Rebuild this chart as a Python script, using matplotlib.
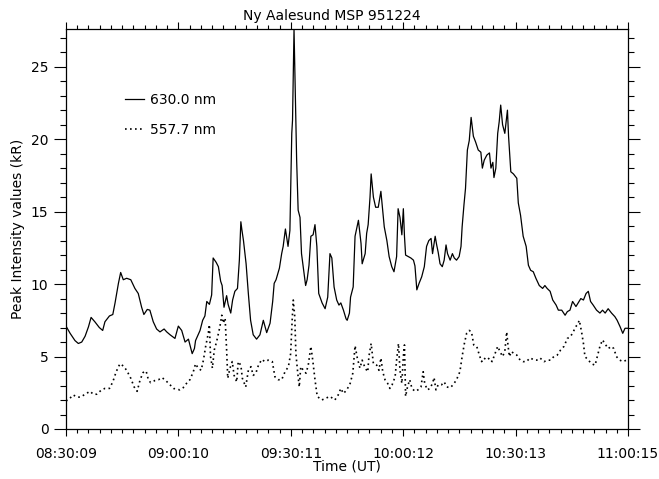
import numpy as np
import matplotlib
matplotlib.use("Agg")
import matplotlib.pyplot as plt
from matplotlib.ticker import FixedLocator, MultipleLocator

plt.rcParams['font.family'] = ['DejaVu Sans']

# Time in minutes after 08:30:09 UT
t630 = [0.0, 1.1, 2.4, 3.3, 4.2, 5.1, 6.0, 6.7, 7.7, 8.9, 9.8, 10.4, 11.6, 12.5, 13.1,
        14.0, 14.6, 15.3, 16.2, 17.3, 18.4, 19.3, 20.2, 20.8, 21.7, 22.4, 23.3, 24.2,
        25.1, 26.2, 26.9, 27.8, 29.1, 30.0, 30.9, 31.8, 32.7, 33.7, 34.3, 34.6, 35.8,
        36.5, 37.1, 37.6, 38.3, 38.9, 39.3, 40.1, 40.7, 41.3, 41.7, 42.2, 42.9, 43.3,
        44.0, 44.5, 45.1, 45.8, 46.3, 46.7, 47.0, 47.4, 48.1, 48.7, 49.3, 50.0, 50.9,
        51.8, 52.7, 53.6, 54.5, 55.2, 55.6, 56.1, 57.0, 57.6, 58.0, 58.6, 58.9, 59.3,
        59.8, 60.3, 60.5, 60.9, 61.2, 61.6, 62.0, 62.5, 62.9, 63.4, 64.0, 64.4, 64.9,
        65.4, 66.0, 66.5, 67.0, 67.5, 68.4, 69.2, 69.9, 70.5, 71.0, 71.6, 72.3, 72.9,
        73.4, 74.1, 74.8, 75.1, 75.7, 76.0, 76.7, 77.2, 78.1, 78.8, 79.1, 79.9, 80.3,
        80.7, 81.2, 81.5, 82.1, 82.7, 83.4, 84.1, 84.5, 85.0, 85.7, 86.3, 87.0, 87.6,
        88.3, 88.7, 89.2, 89.7, 90.1, 90.4, 90.7, 91.4, 92.1, 92.8, 93.2, 93.7, 94.3,
        95.0, 95.7, 96.3, 96.9, 97.5, 97.9, 98.6, 99.0, 99.4, 99.9, 100.5, 101.0,
        101.5, 101.9, 102.6, 103.2, 103.7, 104.3, 105.0, 105.5, 105.8, 106.3, 106.7,
        107.2, 107.7, 108.2, 108.8, 109.4, 110.1, 110.8, 111.2, 111.7, 112.4, 113.1,
        113.5, 114.0, 114.3, 114.8, 115.3, 115.7, 116.1, 116.6, 117.2, 117.9, 118.2,
        118.8, 119.5, 120.4, 120.8, 121.4, 122.1, 122.9, 123.5, 124.1, 124.8, 125.5,
        126.4, 127.3, 127.9, 128.5, 129.3, 130.0, 130.9, 131.5, 132.4, 133.3, 133.9,
        134.6, 135.3, 136.2, 136.8, 137.5, 138.2, 138.9, 139.5, 140.1, 140.8, 141.7,
        142.6, 143.3, 144.0, 144.8, 145.7, 146.6, 147.2, 148.0, 148.7, 149.3, 150.1]
p630 = [7.1, 6.6, 6.1, 5.9, 6.0, 6.4, 7.05, 7.7, 7.4, 7.0, 6.8, 7.4, 7.8, 7.9, 8.7,
        10.05, 10.8, 10.3, 10.4, 10.3, 9.7, 9.35, 8.4, 7.9, 8.25, 8.2, 7.4, 6.9,
        6.7, 6.9, 6.7, 6.5, 6.25, 7.1, 6.8, 6.0, 6.2, 5.2, 5.55, 6.1, 6.8,
        7.5, 7.8, 8.8, 8.6, 9.25, 11.8, 11.5, 11.2, 10.2, 9.9, 8.4, 9.2, 8.6,
        8.0, 8.9, 9.5, 9.7, 11.65, 14.3, 13.7, 13.0, 11.4, 9.35, 7.5, 6.5, 6.2,
        6.5, 7.5, 6.65, 7.3, 8.8, 10.05, 10.3, 11.1, 12.1, 12.6, 13.8, 13.3, 12.6,
        13.7, 20.4, 21.3, 27.6, 23.6, 18.55, 15.1, 14.6, 12.1, 11.1, 9.9, 10.3, 11.3,
        13.3, 13.4, 14.1, 12.6, 9.35, 8.7, 8.3, 9.1, 12.1, 11.8, 9.8, 8.9, 8.55,
        8.7, 8.2, 7.6, 7.5, 8.0, 9.1, 9.8, 13.3, 14.4, 12.8, 11.4, 12.1, 13.5,
        14.1, 16.0, 17.6, 16.0, 15.3, 15.3, 16.4, 15.3, 13.95, 13.0, 11.9, 11.2, 10.85,
        11.9, 15.2, 14.6, 13.4, 15.2, 13.3, 12.0, 11.9, 11.8, 11.65, 11.25, 9.6, 10.05,
        10.5, 11.2, 12.6, 13.0, 13.15, 12.1, 13.3, 12.7, 12.2, 11.4, 11.2, 11.65,
        12.7, 12.1, 11.65, 12.1, 11.8, 11.65, 11.9, 12.6, 13.95, 15.5, 16.6,
        19.25, 19.9, 21.5, 20.2, 19.8, 19.25, 19.1, 18.0, 18.55, 18.9, 19.05,
        18.0, 18.4, 17.35, 18.0, 20.4, 21.2, 22.35, 21.0, 20.4, 22.0, 20.2,
        17.75, 17.6, 17.3, 15.6, 14.75, 13.3, 12.6, 11.3, 10.95, 10.85, 10.4,
        9.9, 9.7, 9.9, 9.7, 9.5, 8.9, 8.55, 8.2, 8.2, 7.85, 8.1,
        8.2, 8.8, 8.45, 8.7, 9.0, 8.9, 9.35, 9.5, 8.8, 8.55, 8.2,
        8.0, 8.2, 8.0, 8.3, 8.0, 7.75, 7.5, 7.05, 6.6, 6.95, 6.95]

t557 = [0.0, 0.6, 1.9, 3.0, 3.9, 4.8, 6.4, 7.3, 8.2, 9.5, 10.4, 11.6, 12.5, 13.4, 14.4,
        15.3, 16.2, 17.3, 18.2, 19.0, 19.8, 20.6, 21.4, 22.0, 22.6, 23.8, 24.7, 25.6,
        26.4, 27.6, 28.7, 29.6, 30.4, 31.3, 32.2, 33.1, 34.0, 34.6, 35.3, 36.1, 36.7,
        37.3, 38.0, 38.3, 38.6, 39.1, 39.6, 40.2, 40.7, 41.1, 41.6, 42.0, 42.5, 42.9,
        43.2, 43.8, 44.4, 44.9, 45.6, 46.0, 46.7, 47.1, 48.0, 48.7, 49.4, 50.0, 50.7,
        51.4, 52.3, 53.1, 54.0, 55.1, 55.8, 56.7, 57.6, 58.5, 59.4, 60.0, 60.4, 60.7,
        61.1, 61.4, 61.9, 62.3, 62.7, 63.4, 64.1, 64.7, 65.4, 65.9, 66.5, 67.1, 68.3,
        69.2, 70.5, 71.8, 72.7, 73.4, 74.1, 75.0, 75.9, 76.6, 77.2, 77.8, 78.5, 79.1,
        79.9, 80.6, 80.9, 81.5, 82.1, 83.0, 83.6, 84.1, 84.6, 85.2, 85.9, 86.5, 87.1,
        87.9, 88.3, 88.8, 89.2, 89.7, 90.1, 90.4, 90.7, 91.2, 91.8, 92.4, 93.2, 94.0,
        94.8, 95.4, 95.8, 96.5, 97.2, 97.9, 98.3, 98.8, 99.4, 100.3, 101.0, 101.7,
        102.6, 103.4, 104.3, 105.2, 105.8, 106.4, 107.0, 107.7, 108.3, 108.9, 109.7,
        110.4, 111.0, 111.6, 112.4, 113.1, 113.8, 114.6, 115.3, 115.9, 116.6, 117.2,
        117.7, 118.0, 118.4, 119.0, 119.6, 120.4, 121.3, 122.1, 123.0, 123.9, 124.8,
        125.7, 126.6, 127.7, 128.5, 129.4, 130.3, 131.2, 132.1, 133.0, 133.9, 134.6,
        135.3, 136.1, 136.6, 137.1, 137.7, 138.2, 138.6, 139.5, 140.4, 141.3, 141.9,
        142.6, 143.3, 143.9, 144.8, 145.7, 146.3, 147.0, 147.9, 148.8, 149.7, 150.1]
p557 = [1.95, 2.0, 2.35, 2.2, 2.2, 2.35, 2.6, 2.4, 2.4, 2.7, 2.8, 2.8, 3.25, 3.95, 4.5,
        4.35, 4.05, 3.5, 2.9, 2.6, 3.4, 3.9, 4.0, 3.4, 3.2, 3.35, 3.4, 3.55,
        3.4, 3.1, 2.8, 2.75, 2.7, 2.85, 3.15, 3.4, 3.95, 4.5, 4.2, 4.05, 4.75,
        5.7, 6.6, 7.2, 5.0, 4.2, 5.45, 6.0, 6.6, 7.05, 7.85, 7.3, 7.65, 5.45,
        3.5, 4.2, 4.65, 3.7, 3.25, 4.65, 4.4, 3.5, 2.9, 4.05, 4.3, 3.7, 3.85,
        4.4, 4.8, 4.65, 4.75, 4.65, 3.6, 3.4, 3.4, 3.95, 4.3, 5.2, 7.5, 8.9,
        7.75, 5.2, 3.85, 2.9, 4.3, 4.05, 3.85, 4.4, 5.7, 4.75, 3.4, 2.25, 2.0,
        2.1, 2.25, 2.0, 2.35, 2.8, 2.45, 2.7, 3.15, 3.85, 5.75, 4.9, 4.2, 4.75,
        4.2, 3.95, 5.0, 5.9, 4.5, 4.4, 4.05, 4.9, 3.95, 3.4, 3.15, 2.8, 3.05,
        3.6, 4.75, 5.9, 4.05, 3.15, 5.0, 5.8, 2.25, 2.9, 3.4, 2.8, 2.6, 2.7,
        2.9, 3.95, 3.15, 2.7, 2.8, 3.15, 3.55, 2.7, 3.05, 3.05, 3.25, 2.9,
        2.85, 3.05, 3.4, 3.95, 5.0, 5.9, 6.6, 6.8, 6.7, 5.8, 5.7,
        5.1, 4.65, 4.9, 4.75, 4.9, 4.65, 5.2, 5.7, 5.35, 5.0, 5.35,
        6.7, 5.9, 5.0, 5.35, 5.2, 5.1, 4.75, 4.65, 4.65, 4.9, 4.8,
        4.75, 4.9, 4.65, 4.75, 4.75, 5.0, 5.1, 5.45, 5.7, 6.25, 6.35,
        6.6, 7.05, 7.2, 7.5, 6.7, 5.9, 5.0, 4.75, 4.5, 4.4, 5.0,
        5.7, 6.15, 5.9, 5.55, 5.7, 5.55, 5.0, 4.75, 4.65, 4.75, 4.8]

time_labels = ['08:30:09', '09:00:10', '09:30:11', '10:00:12', '10:30:13', '11:00:15']
t_end = 150.1
series_labels = ['630.0 nm', '557.7 nm']

fig = plt.figure(figsize=(6.59, 4.79), dpi=100)
ax = fig.add_axes([66 / 659, 1 - 429 / 479, 562 / 659, 400 / 479])

ax.plot(t630, p630, color='black', lw=0.9, label=series_labels[0])
ax.plot(t557, p557, color='black', lw=1.2, linestyle=(0, (1, 2.0)), label=series_labels[1])

ax.set_xlim(0, t_end)
ax.set_ylim(0, max(p630))

major_x = np.linspace(0, t_end, len(time_labels))
ax.xaxis.set_major_locator(FixedLocator(major_x))
ax.xaxis.set_minor_locator(FixedLocator(np.linspace(0, t_end, 10 * (len(time_labels) - 1) + 1)))
ax.set_xticklabels(time_labels)
ax.yaxis.set_major_locator(MultipleLocator(5))
ax.yaxis.set_minor_locator(MultipleLocator(1))

for s in ax.spines.values():
    s.set_linewidth(0.9)
ax.tick_params(axis='both', which='both', direction='out', top=True, right=True,
               width=0.8, labelsize=10, colors='black')
ax.tick_params(axis='x', which='major', length=5.2, pad=8)
ax.tick_params(axis='x', which='minor', length=2.6)
ax.tick_params(axis='y', which='major', length=8.6, pad=4)
ax.tick_params(axis='y', which='minor', length=4.3)

fig.text(332 / 659, 1 - 16 / 479, 'Ny Aalesund MSP 951224', ha='center', va='center', fontsize=10)
fig.text(347 / 659, 1 - 467 / 479, 'Time (UT)', ha='center', va='center', fontsize=10)
fig.text(18 / 659, 1 - 229 / 479, 'Peak Intensity values (kR)', ha='center', va='center',
         rotation=90, fontsize=10)

ax.legend(loc='upper left', bbox_to_anchor=(0.105, 0.84), frameon=False, fontsize=10,
          handlelength=1.37, handletextpad=0.45, labelspacing=1.15, borderpad=0,
          borderaxespad=0)

fig.savefig('out.png', dpi=100)
